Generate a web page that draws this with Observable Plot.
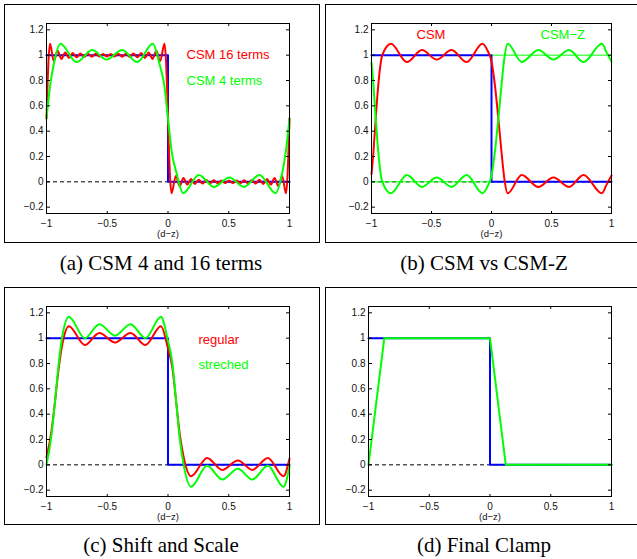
<!DOCTYPE html>
<html><head><meta charset="utf-8">
<script src="https://cdn.jsdelivr.net/npm/d3@7"></script>
<script src="https://cdn.jsdelivr.net/npm/@observablehq/plot@0.6"></script>
<style>
body{margin:0;background:#fff;}
#fig{position:relative;width:637px;height:559px;overflow:hidden;background:#fff;}
.box{position:absolute;border:1.5px solid #000;box-sizing:border-box;}
.cap{position:absolute;font-family:"Liberation Serif","Times New Roman",serif;font-size:21px;line-height:24px;color:#000;white-space:nowrap;transform:translateX(-50%);}
.panel{position:absolute;}
</style></head>
<body><div id="fig"></div>
<script>
// ---------- data ----------
const xTicks = [-1, -0.5, 0, 0.5, 1];
const yTicks = [-0.2, 0, 0.2, 0.4, 0.6, 0.8, 1, 1.2];
const xLabel = "(d−z)";
const captions = ["(a) CSM 4 and 16 terms", "(b) CSM vs CSM-Z", "(c) Shift and Scale", "(d) Final Clamp"];

// target step function
const stepX = [-1, 0, 0, 1];
const stepY = [1, 1, 0, 0];
// complementary step (CSM-Z target)
const zStepY = [0, 0, 1, 1];

// (a) CSM 4 terms
const a4X = [-1, -0.97, -0.94, -0.885, -0.753, -0.624, -0.506, -0.377, -0.254, -0.125, -0.07, -0.03, 0, 0.03, 0.07, 0.125, 0.254, 0.377, 0.506, 0.624, 0.753, 0.885, 0.94, 0.97, 1];
const a4Y = [0.5, 0.76, 0.93, 1.09, 0.946, 1.04, 0.965, 1.04, 0.946, 1.09, 0.93, 0.76, 0.5, 0.24, 0.07, -0.09, 0.054, -0.04, 0.035, -0.04, 0.054, -0.09, 0.07, 0.24, 0.5];
// (a) CSM 16 terms
const a16X = [-1, -0.992, -0.985, -0.971, -0.940, -0.909, -0.877, -0.846, -0.815, -0.784, -0.752, -0.721, -0.690, -0.659, -0.627, -0.596, -0.565, -0.534, -0.502, -0.471, -0.440, -0.409, -0.377, -0.346, -0.315, -0.284, -0.252, -0.221, -0.190, -0.159, -0.127, -0.096, -0.065, -0.029, -0.015, -0.008, 0,
  0.008, 0.015, 0.029, 0.065, 0.096, 0.127, 0.159, 0.190, 0.221, 0.252, 0.284, 0.315, 0.346, 0.377, 0.409, 0.440, 0.471, 0.502, 0.534, 0.565, 0.596, 0.627, 0.659, 0.690, 0.721, 0.752, 0.784, 0.815, 0.846, 0.877, 0.909, 0.940, 0.971, 0.985, 0.992, 1];
const a16Y = [0.5, 0.75, 0.93, 1.09, 0.953, 1.035, 0.970, 1.022, 0.978, 1.017, 0.983, 1.014, 0.986, 1.012, 0.988, 1.011, 0.989, 1.010, 0.990, 1.010, 0.989, 1.011, 0.988, 1.012, 0.986, 1.014, 0.983, 1.017, 0.978, 1.022, 0.970, 1.035, 0.953, 1.09, 0.93, 0.75, 0.5,
  0.25, 0.07, -0.09, 0.047, -0.035, 0.030, -0.022, 0.022, -0.017, 0.017, -0.014, 0.014, -0.012, 0.012, -0.011, 0.011, -0.010, 0.010, -0.010, 0.011, -0.011, 0.012, -0.012, 0.014, -0.014, 0.017, -0.017, 0.022, -0.022, 0.030, -0.035, 0.047, -0.09, 0.07, 0.25, 0.5];

// (b) CSM and CSM-Z
const bX = [-1, -0.985, -0.965, -0.94, -0.91, -0.838, -0.705, -0.58, -0.456, -0.333, -0.207, -0.076, -0.035, 0, 0.03, 0.057, 0.085, 0.105, 0.135, 0.252, 0.39, 0.516, 0.647, 0.767, 0.92, 0.96, 1];
const bCsmY = [0.06, 0.22, 0.5, 0.8, 1.0, 1.09, 0.946, 1.04, 0.965, 1.04, 0.946, 1.09, 1.04, 0.95, 0.75, 0.5, 0.22, 0.04, -0.09, 0.054, -0.04, 0.035, -0.04, 0.054, -0.09, -0.02, 0.05];
const bCsmZY = [0.94, 0.78, 0.5, 0.2, 0.0, -0.09, 0.054, -0.04, 0.035, -0.04, 0.054, -0.09, -0.04, 0.05, 0.25, 0.5, 0.78, 0.96, 1.09, 0.946, 1.04, 0.965, 1.04, 0.946, 1.09, 1.02, 0.95];

// (c) regular and stretched
const cX = [-1, -0.96, -0.93, -0.90, -0.87, -0.816, -0.685, -0.565, -0.436, -0.309, -0.185, -0.058, -0.003, 0.037, 0.067, 0.097, 0.127, 0.19, 0.322, 0.446, 0.575, 0.694, 0.822, 0.95, 1];
const cRegY = [0.06, 0.26, 0.5, 0.76, 0.95, 1.095, 0.946, 1.04, 0.965, 1.04, 0.946, 1.095, 0.93, 0.76, 0.5, 0.24, 0.07, -0.09, 0.054, -0.04, 0.035, -0.04, 0.054, -0.09, 0.05];
const cStrY = [0.0, 0.226, 0.5, 0.796, 1.013, 1.17, 1.0, 1.11, 1.02, 1.11, 1.0, 1.17, 0.99, 0.796, 0.5, 0.204, 0.01, -0.173, -0.008, -0.116, -0.03, -0.116, -0.008, -0.173, -0.013];

// (d) final clamp
const dX = [-1, -0.87, 0, 0.13, 1];
const dY = [0, 1, 1, 0, 0];

// ---------- drawing ----------
const RED = "#ff0000", GREEN = "#00ff00", BLUE = "#0000ff";
const fmt = d3.format("~g");
const pts = (xs, ys) => xs.map((x, i) => ({x, y: ys[i]}));

function panel({width, height, ml, mr, mt, mb, series, legend}) {
  const marks = [
    Plot.ruleY([0], {stroke: "#000", strokeWidth: 1, strokeDasharray: "4,3"}),
    ...series.map(s => Plot.line(pts(s.x, s.y), {x: "x", y: "y", stroke: s.color, strokeWidth: s.w, curve: s.curve || "linear"})),
    Plot.frame({stroke: "#000", strokeWidth: 1}),
    Plot.axisX(xTicks, {anchor: "bottom", tickSize: 0, tickPadding: 6, tickFormat: fmt, label: null, fill: "#111"}),
    Plot.axisY(yTicks, {anchor: "left", tickSize: 0, tickPadding: 3, tickFormat: fmt, label: null, fill: "#111"}),
    Plot.axisX(xTicks, {anchor: "top", frameAnchor: "bottom", tickSize: 3, tickFormat: () => "", fill: "none", label: null}),
    Plot.axisX(xTicks, {anchor: "bottom", frameAnchor: "top", tickSize: 3, tickFormat: () => "", fill: "none", label: null}),
    Plot.axisY(yTicks, {anchor: "right", frameAnchor: "left", tickSize: 3, tickFormat: () => "", fill: "none", label: null}),
    Plot.axisY(yTicks, {anchor: "left", frameAnchor: "right", tickSize: 3, tickFormat: () => "", fill: "none", label: null}),
    Plot.text([xLabel], {frameAnchor: "bottom", dy: 20, text: d => d, fontSize: 9.5, lineAnchor: "middle", fill: "#111"}),
    ...legend.map(l => Plot.text([l.text], {frameAnchor: "top-left", dx: l.dx, dy: l.dy, text: d => d, fill: l.color, fontSize: 13, textAnchor: "start", lineAnchor: "middle"}))
  ];
  return Plot.plot({
    width, height, marginLeft: ml, marginRight: mr, marginTop: mt, marginBottom: mb,
    x: {domain: [-1, 1]}, y: {domain: [-0.25, 1.25]},
    style: {fontFamily: "'Liberation Sans', Arial, Helvetica, sans-serif", fontSize: "10px", background: "transparent", overflow: "visible"},
    marks
  });
}

const fig = document.getElementById("fig");
function addBox(l, t, w, h) {
  const d = document.createElement("div"); d.className = "box";
  Object.assign(d.style, {left: l + "px", top: t + "px", width: w + "px", height: h + "px"});
  fig.appendChild(d);
}
function addPanel(l, t, svg) {
  const d = document.createElement("div"); d.className = "panel";
  Object.assign(d.style, {left: l + "px", top: t + "px"});
  d.appendChild(svg); fig.appendChild(d);
}
function addCap(text, cx, top) {
  const d = document.createElement("div"); d.className = "cap";
  d.textContent = text; d.style.left = cx + "px"; d.style.top = top + "px";
  fig.appendChild(d);
}

addBox(4, 4, 316, 239);
addBox(325, 4, 330, 239);
addBox(4, 287, 316, 238);
addBox(325, 287, 330, 238);

addPanel(0, 0, panel({width: 320, height: 245, ml: 46, mr: 31, mt: 23, mb: 32,
  series: [
    {x: stepX, y: stepY, color: BLUE, w: 2},
    {x: a16X, y: a16Y, color: RED, w: 2, curve: "monotone-x"},
    {x: a4X, y: a4Y, color: GREEN, w: 2, curve: "monotone-x"}
  ],
  legend: [
    {text: "CSM 16 terms", color: RED, dx: 140, dy: 31},
    {text: "CSM 4 terms", color: GREEN, dx: 140, dy: 57}
  ]}));

addPanel(320, 0, panel({width: 317, height: 245, ml: 51, mr: 26, mt: 23, mb: 32,
  series: [
    {x: stepX, y: zStepY, color: GREEN, w: 1},
    {x: stepX, y: stepY, color: BLUE, w: 2},
    {x: bX, y: bCsmY, color: RED, w: 2, curve: "monotone-x"},
    {x: bX, y: bCsmZY, color: GREEN, w: 2, curve: "monotone-x"}
  ],
  legend: [
    {text: "CSM", color: RED, dx: 45, dy: 11},
    {text: "CSM−Z", color: GREEN, dx: 169, dy: 11}
  ]}));

addPanel(0, 283, panel({width: 320, height: 245, ml: 46, mr: 31, mt: 23, mb: 32,
  series: [
    {x: stepX, y: stepY, color: BLUE, w: 2},
    {x: cX, y: cRegY, color: RED, w: 2, curve: "monotone-x"},
    {x: cX, y: cStrY, color: GREEN, w: 2, curve: "monotone-x"}
  ],
  legend: [
    {text: "regular", color: RED, dx: 152, dy: 33},
    {text: "streched", color: GREEN, dx: 152, dy: 58}
  ]}));

addPanel(320, 283, panel({width: 317, height: 245, ml: 48, mr: 26, mt: 23, mb: 32,
  series: [
    {x: stepX, y: stepY, color: BLUE, w: 2},
    {x: dX, y: dY, color: GREEN, w: 2}
  ],
  legend: []}));

addCap(captions[0], 161, 251);
addCap(captions[1], 484, 251);
addCap(captions[2], 161, 533);
addCap(captions[3], 484, 533);
</script>
</body></html>
